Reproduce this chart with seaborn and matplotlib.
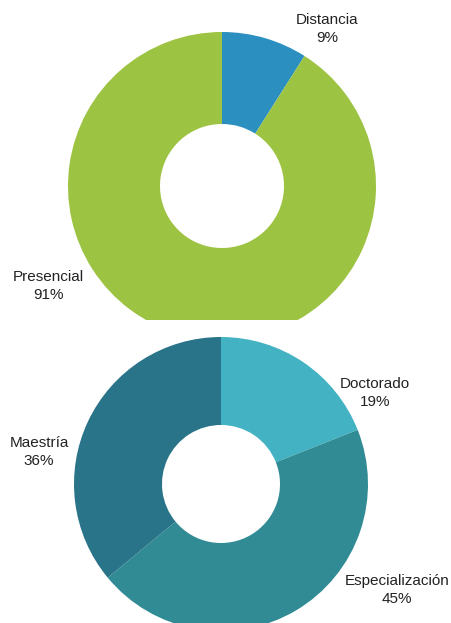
import matplotlib
matplotlib.use("Agg")
import matplotlib.pyplot as plt
import seaborn as sns

# data
modalidad = ["Distancia", "Presencial"]
modalidad_pct = [9, 91]
modalidad_colors = ["#2B8FC0", "#9DC342"]

nivel = ["Doctorado", "Especialización", "Maestría"]
nivel_pct = [19, 45, 36]
nivel_colors = ["#43B3C4", "#318B95", "#297488"]

sns.set_theme(style="white")
plt.rcParams['font.family'] = ['Liberation Sans', 'DejaVu Sans']

W, H = 451, 623
fig = plt.figure(figsize=(W / 100, H / 100), dpi=100)

# top donut, cut off at pixel row 320
ax1 = fig.add_axes([0, (H - 320) / H, 1, 320 / H])
wedges1, _ = ax1.pie(modalidad_pct, colors=modalidad_colors, startangle=90, counterclock=False,
                     center=(222, H - 186), radius=154, frame=True,
                     wedgeprops=dict(width=154 - 62, linewidth=0))
for w in wedges1:
    w.set_clip_on(True)
ax1.set_xlim(0, W)
ax1.set_ylim(H - 320, H)
ax1.set_aspect("auto")
ax1.axis("off")

# bottom donut
ax2 = fig.add_axes([0, 0, 1, (H - 320) / H])
wedges2, _ = ax2.pie(nivel_pct, colors=nivel_colors, startangle=90, counterclock=False,
                     center=(221, H - 484), radius=147, frame=True,
                     wedgeprops=dict(width=147 - 59, linewidth=0))
for w in wedges2:
    w.set_clip_on(True)
ax2.set_xlim(0, W)
ax2.set_ylim(0, H - 320)
ax2.set_aspect("auto")
ax2.axis("off")

label_pos1 = [(327, 29), (48, 286)]
for name, pct, (x, y) in zip(modalidad, modalidad_pct, label_pos1):
    ax1.text(x, H - y, f"{name}\n{pct}%", ha="center", va="center",
             fontsize=11, color="#222222", linespacing=1.35)

label_pos2 = [(375, 393), (397, 590), (39, 452)]
for name, pct, (x, y) in zip(nivel, nivel_pct, label_pos2):
    ax2.text(x, H - y, f"{name}\n{pct}%", ha="center", va="center",
             fontsize=11, color="#222222", linespacing=1.35)

fig.savefig("out.png", dpi=100)
